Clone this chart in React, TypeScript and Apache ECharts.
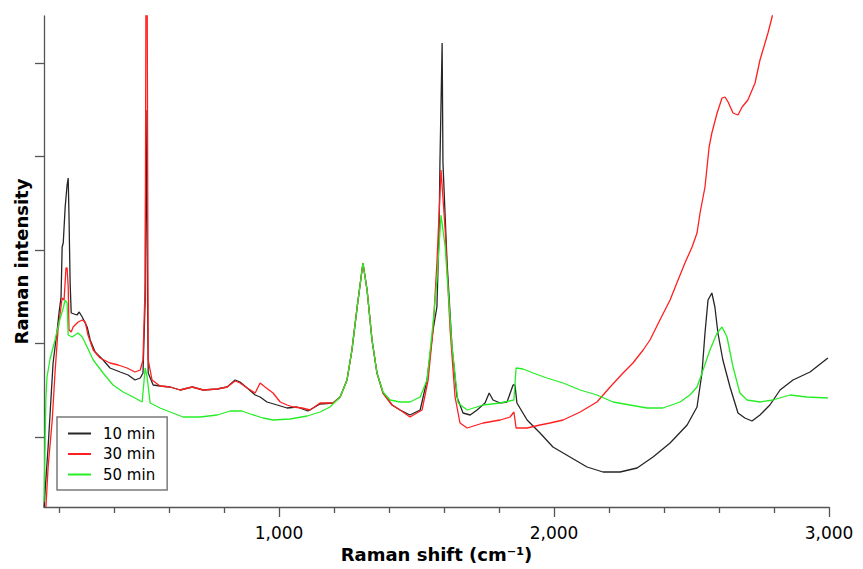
import React, { useEffect, useRef } from "react";
import * as echarts from "echarts";

const seriesNames = ["10 min", "30 min", "50 min"];
const seriesColors = ["#262626", "#ff1f1f", "#26ee26"];

const xMajorTicks = [1000, 2000, 3000];
const xMinorTicks = [200, 400, 600, 800, 1200, 1400, 1600, 1800, 2200, 2400, 2600, 2800];
const yTicks = [70, 163.5, 257, 350.5, 444];

// Raman shift (cm-1), intensity (a.u.)
const spectrum10 = [
  [145, 0], [160, 60], [178, 144], [193, 177], [200, 195], [207, 210], [211, 260], [215, 264], [222, 300], [229, 322], [233, 329], [236, 290], [240, 224], [244, 194], [265, 192], [273, 195], [284, 190], [302, 180], [313, 167], [331, 155], [360, 147], [385, 139], [422, 135], [451, 132], [476, 127], [495, 129], [505, 134], [513, 207], [516, 397], [520, 257], [524, 134], [542, 122], [567, 121], [604, 120], [640, 117], [684, 120], [724, 117], [775, 118], [811, 120], [840, 127], [858, 125], [884, 119], [913, 112], [931, 110], [956, 105], [993, 102], [1029, 99], [1065, 100], [1105, 96], [1149, 103], [1196, 104], [1222, 110], [1247, 127], [1265, 157], [1284, 200], [1305, 244], [1320, 217], [1338, 167], [1356, 134], [1378, 114], [1411, 102], [1440, 97], [1476, 92], [1513, 97], [1538, 127], [1560, 177], [1574, 200], [1582, 277], [1585, 344], [1593, 464], [1596, 344], [1611, 244], [1629, 160], [1647, 110], [1669, 94], [1695, 92], [1720, 97], [1749, 104], [1764, 114], [1778, 107], [1804, 104], [1829, 105], [1851, 122], [1858, 122], [1865, 104], [1902, 87], [1949, 74], [1996, 60], [2058, 50], [2120, 40], [2178, 35], [2240, 35], [2302, 39], [2360, 50], [2422, 64], [2484, 82], [2520, 100], [2538, 134], [2549, 174], [2560, 207], [2574, 214], [2585, 200], [2596, 174], [2614, 147], [2640, 120], [2669, 94], [2694, 89], [2720, 86], [2749, 92], [2785, 102], [2822, 117], [2869, 127], [2931, 135], [2996, 149],
];

const spectrum30 = [
  [152, 0], [160, 40], [175, 87], [185, 134], [196, 177], [211, 209], [218, 207], [225, 239], [229, 239], [233, 220], [236, 177], [244, 175], [251, 180], [269, 185], [284, 187], [295, 185], [305, 172], [324, 157], [349, 149], [385, 144], [415, 142], [447, 139], [476, 135], [495, 137], [505, 147], [513, 224], [516, 530], [520, 530], [524, 147], [538, 127], [567, 121], [604, 120], [640, 117], [684, 120], [724, 117], [775, 118], [811, 120], [840, 126], [858, 124], [884, 119], [913, 114], [931, 124], [949, 120], [978, 114], [1004, 105], [1029, 102], [1051, 100], [1084, 99], [1113, 97], [1149, 104], [1196, 104], [1222, 110], [1247, 127], [1265, 157], [1284, 200], [1305, 244], [1320, 217], [1338, 167], [1356, 134], [1378, 114], [1411, 102], [1440, 97], [1476, 90], [1520, 97], [1542, 127], [1560, 177], [1574, 244], [1589, 337], [1604, 277], [1622, 177], [1640, 110], [1658, 84], [1684, 79], [1742, 84], [1804, 87], [1840, 90], [1854, 95], [1862, 79], [1902, 79], [1949, 82], [1985, 84], [2033, 87], [2095, 95], [2156, 105], [2204, 120], [2251, 134], [2287, 144], [2324, 157], [2349, 167], [2385, 187], [2422, 207], [2451, 227], [2476, 244], [2502, 260], [2520, 274], [2531, 294], [2549, 320], [2564, 360], [2574, 374], [2593, 394], [2611, 409], [2622, 410], [2633, 405], [2651, 394], [2669, 392], [2684, 400], [2705, 407], [2731, 424], [2749, 447], [2778, 474], [2793, 490], [2810, 520],
];

const spectrum50 = [
  [145, 5], [152, 110], [156, 130], [167, 148], [185, 167], [204, 189], [215, 199], [222, 207], [229, 204], [233, 172], [247, 170], [269, 174], [284, 170], [302, 160], [324, 147], [360, 134], [396, 122], [433, 115], [469, 110], [502, 105], [513, 139], [520, 130], [531, 104], [567, 99], [604, 95], [651, 90], [713, 90], [775, 92], [822, 96], [865, 96], [895, 93], [942, 89], [978, 87], [1040, 88], [1102, 91], [1149, 95], [1185, 100], [1222, 110], [1247, 127], [1265, 157], [1284, 200], [1305, 244], [1320, 217], [1338, 167], [1356, 134], [1378, 115], [1404, 107], [1440, 105], [1476, 105], [1513, 110], [1538, 127], [1560, 184], [1574, 227], [1589, 292], [1604, 260], [1629, 160], [1651, 104], [1684, 97], [1742, 102], [1804, 104], [1854, 107], [1862, 139], [1887, 138], [1924, 134], [1974, 129], [2033, 124], [2095, 117], [2156, 112], [2215, 105], [2276, 102], [2338, 99], [2396, 99], [2458, 105], [2494, 112], [2520, 120], [2542, 137], [2567, 157], [2593, 174], [2611, 180], [2629, 170], [2651, 140], [2676, 114], [2702, 107], [2749, 105], [2796, 107], [2858, 112], [2920, 110], [2996, 109],
];

const spectra = [spectrum10, spectrum30, spectrum50];

const X_MIN = 145;
const X_MAX = 3000;
const Y_MIN = 0;
const Y_MAX = 491;

const FONT = "DejaVu Sans";
const AXIS_COLOR = "#555555";

export default function App() {
  const ref = useRef<HTMLDivElement>(null);

  useEffect(() => {
    if (!ref.current) return;
    const chart = echarts.init(ref.current, null, { renderer: "svg" });
    const axisLineStyle = { color: AXIS_COLOR, width: 1.3 };
    chart.setOption({
      animation: false,
      backgroundColor: "#ffffff",
      grid: { left: 44, top: 16, right: 34, bottom: 62 },
      legend: {
        data: seriesNames,
        orient: "vertical",
        left: 57,
        top: 417,
        padding: [9, 12, 8, 11],
        itemGap: 5.5,
        itemWidth: 23,
        itemHeight: 2,
        icon: "rect",
        borderColor: "#7a7a7a",
        borderWidth: 1.5,
        backgroundColor: "#ffffff",
        textStyle: { fontSize: 15, fontFamily: FONT, color: "#000", padding: [0, 0, 0, 7], lineHeight: 15 },
      },
      xAxis: [
        {
          type: "value",
          min: X_MIN,
          max: X_MAX,
          position: "bottom",
          axisLine: { show: true, onZero: false, lineStyle: axisLineStyle },
          axisTick: { show: true, customValues: xMinorTicks, length: 6, lineStyle: axisLineStyle },
          axisLabel: {
            show: true,
            customValues: xMajorTicks,
            formatter: (v: number) => v.toLocaleString("en-US"),
            fontSize: 17,
            fontFamily: FONT,
            color: "#000",
            margin: 17,
          },
          splitLine: { show: false },
          name: "Raman shift (cm\u207B\u00B9)",
          nameLocation: "middle",
          nameGap: 38,
          nameTextStyle: { fontSize: 18, fontWeight: "bold", fontFamily: FONT, color: "#000" },
        },
        {
          type: "value",
          min: X_MIN,
          max: X_MAX,
          position: "bottom",
          axisLine: { show: false },
          axisTick: { show: true, customValues: xMajorTicks, length: 10, lineStyle: axisLineStyle },
          axisLabel: { show: false },
          splitLine: { show: false },
        },
      ],
      yAxis: {
        type: "value",
        min: Y_MIN,
        max: Y_MAX,
        axisLine: { show: true, onZero: false, lineStyle: axisLineStyle },
        axisTick: { show: true, customValues: yTicks, length: 9, lineStyle: axisLineStyle },
        axisLabel: { show: false },
        splitLine: { show: false },
        name: "Raman intensity",
        nameLocation: "middle",
        nameGap: 14,
        nameTextStyle: { fontSize: 18, fontWeight: "bold", fontFamily: FONT, color: "#000" },
      },
      series: spectra.map((data, i) => ({
        name: seriesNames[i],
        type: "line",
        xAxisIndex: 0,
        yAxisIndex: 0,
        data,
        showSymbol: false,
        symbol: "none",
        clip: true,
        color: seriesColors[i],
        lineStyle: { color: seriesColors[i], width: 1.3 },
        emphasis: { disabled: true },
      })),
    });
    return () => chart.dispose();
  }, []);

  return (
    <div
      ref={ref}
      style={{ position: "fixed", left: 0, top: 0, width: 863, height: 569, background: "#fff" }}
    />
  );
}
